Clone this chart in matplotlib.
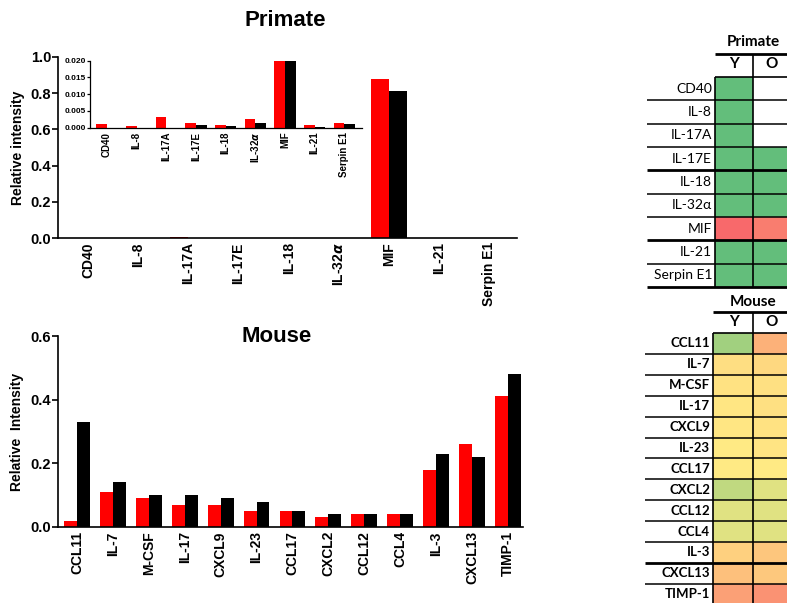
import matplotlib.pyplot as plt
import numpy as np
from matplotlib.colors import LinearSegmentedColormap, TwoSlopeNorm

# red = young, black = old
primate_labels = ["CD40", "IL-8", "IL-17A", "IL-17E", "IL-18", "IL-32$\\alpha$", "MIF", "IL-21", "Serpin E1"]
primate_table_labels = ["CD40", "IL-8", "IL-17A", "IL-17E", "IL-18", "IL-32α", "MIF", "IL-21", "Serpin E1"]
primate_young = [0.0010, 0.0006, 0.0032, 0.0013, 0.0009, 0.0025, 0.88, 0.0009, 0.0014]
primate_old = [0.0, 0.0, 0.0, 0.0007, 0.0006, 0.0015, 0.81, 0.0003, 0.0012]

mouse_labels = ["CCL11", "IL-7", "M-CSF", "IL-17", "CXCL9", "IL-23", "CCL17",
                "CXCL2", "CCL12", "CCL4", "IL-3", "CXCL13", "TIMP-1"]
mouse_young = [0.02, 0.11, 0.09, 0.07, 0.07, 0.05, 0.05, 0.03, 0.04, 0.04, 0.18, 0.26, 0.41]
mouse_old = [0.33, 0.14, 0.10, 0.10, 0.09, 0.08, 0.05, 0.04, 0.04, 0.04, 0.23, 0.22, 0.48]

plt.rcParams["font.family"] = ["Liberation Sans", "DejaVu Sans"]
plt.rcParams["font.weight"] = "bold"

W, H = 787, 603
fig = plt.figure(figsize=(W / 100, H / 100), dpi=100)


def px_axes(x0, y0, x1, y1):
    return fig.add_axes([x0 / W, 1 - y1 / H, (x1 - x0) / W, (y1 - y0) / H])


def bar_panel(ax, labels, young, old, xlim, ylim, yticks, yfmt, fs_x, fs_y, lw, tl):
    x = np.arange(len(labels))
    w = 0.36
    ax.bar(x - w / 2, young, w, color="#ff0000")
    ax.bar(x + w / 2, old, w, color="black")
    ax.set_xlim(*xlim)
    ax.set_ylim(*ylim)
    ax.set_xticks(x)
    ax.set_xticklabels(labels, rotation=90, fontsize=fs_x, fontweight="bold")
    ax.set_yticks(yticks)
    ax.set_yticklabels([yfmt.format(v) for v in yticks], fontsize=fs_y, fontweight="bold")
    ax.tick_params(axis="x", length=0, pad=3)
    ax.tick_params(axis="y", length=tl, width=lw, pad=1)
    for s in ["top", "right"]:
        ax.spines[s].set_visible(False)
    for s in ["left", "bottom"]:
        ax.spines[s].set_linewidth(lw)


# ---- tables on the right, drawn in pixel coordinates ----
tab = fig.add_axes([0, 0, 1, 1])
tab.set_xlim(0, W)
tab.set_ylim(H, 0)
tab.axis("off")

gyr = LinearSegmentedColormap.from_list("gyr", ["#63BE7B", "#FFEB84", "#F8696B"])
tfont = ["Lato", "DejaVu Sans"]


def table(title, labels, young, old, norm, top, rh, xl, xc, title_y, head_y, thick, lab_x, fs, weight):
    n = len(labels)
    vals = np.ma.masked_equal(np.column_stack([young, old]), 0)
    yedges = top + rh * np.arange(n + 1)
    tab.pcolormesh([xc, 753, 800], yedges, vals, cmap=gyr, norm=norm)
    tab.text(753, title_y, title, ha="center", va="center", fontsize=11,
             fontweight="bold", family=tfont)
    tab.hlines(head_y - 10, xc, W, color="black", lw=2)
    tab.text(734, head_y, "Y", ha="center", va="center", fontsize=11, fontweight="bold", family=tfont)
    tab.text(772, head_y, "O", ha="center", va="center", fontsize=11, fontweight="bold", family=tfont)
    tab.hlines(top, xc, W, color="black", lw=1.2)
    for i in range(1, n + 1):
        tab.hlines(yedges[i], xl, W, color="black", lw=2 if i in thick else 1.1)
    tab.vlines(xc, top, yedges[-1], color="black", lw=1.2)
    tab.vlines(753, head_y - 10, yedges[-1], color="black", lw=1.2)
    for i, lab in enumerate(labels):
        tab.text(lab_x, top + rh * (i + 0.5), lab, ha="right", va="center", fontsize=fs,
                 fontweight=weight, family=tfont)


table("Primate", primate_table_labels, primate_young, primate_old,
      TwoSlopeNorm(vmin=0, vcenter=0.44, vmax=0.88),
      top=77, rh=23.33, xl=647, xc=715, title_y=42, head_y=64, thick=[4, 7, 9],
      lab_x=712, fs=10, weight="normal")
table("Mouse", mouse_labels, mouse_young, mouse_old,
      TwoSlopeNorm(vmin=0, vcenter=0.05, vmax=0.68),
      top=333, rh=20.9, xl=645, xc=713, title_y=302, head_y=322, thick=[11],
      lab_x=710, fs=9.5, weight="bold")

# thin frame line left of the inset
tab.vlines(63, 57, 128, color="black", lw=0.8)

# ---- primate bar chart ----
ax_p = px_axes(58, 57, 517, 238)
bar_panel(ax_p, primate_labels, primate_young, primate_old, (-0.6, 8.55), (0, 1.0),
          [0, 0.2, 0.4, 0.6, 0.8, 1.0], "{:.1f}", 10, 10.5, 1.2, 4)

ax_in = px_axes(90, 60.7, 362, 127.7)
bar_panel(ax_in, primate_labels, primate_young, primate_old, (-0.57, 8.6), (0, 0.02),
          [0, 0.005, 0.010, 0.015, 0.020], "{:.3f}", 7, 6, 0.9, 2)
ax_in.set_facecolor("white")

fig.text(285 / W, 1 - 21 / H, "Primate", ha="center", va="center", fontsize=16, fontweight="bold")
fig.text(18 / W, 1 - 148 / H, "Relative intensity", rotation=90, ha="center", va="center",
         fontsize=10, fontweight="bold")

# ---- mouse bar chart ----
ax_m = px_axes(58, 336, 523, 527)
bar_panel(ax_m, mouse_labels, mouse_young, mouse_old, (-0.53, 12.42), (0, 0.6),
          [0, 0.2, 0.4, 0.6], "{:.1f}", 10, 10.5, 1.2, 4)

fig.text(277 / W, 1 - 337 / H, "Mouse", ha="center", va="center", fontsize=16, fontweight="bold")
fig.text(17 / W, 1 - 432 / H, "Relative  Intensity", rotation=90, ha="center", va="center",
         fontsize=10, fontweight="bold")

fig.savefig("out.png", dpi=100)
